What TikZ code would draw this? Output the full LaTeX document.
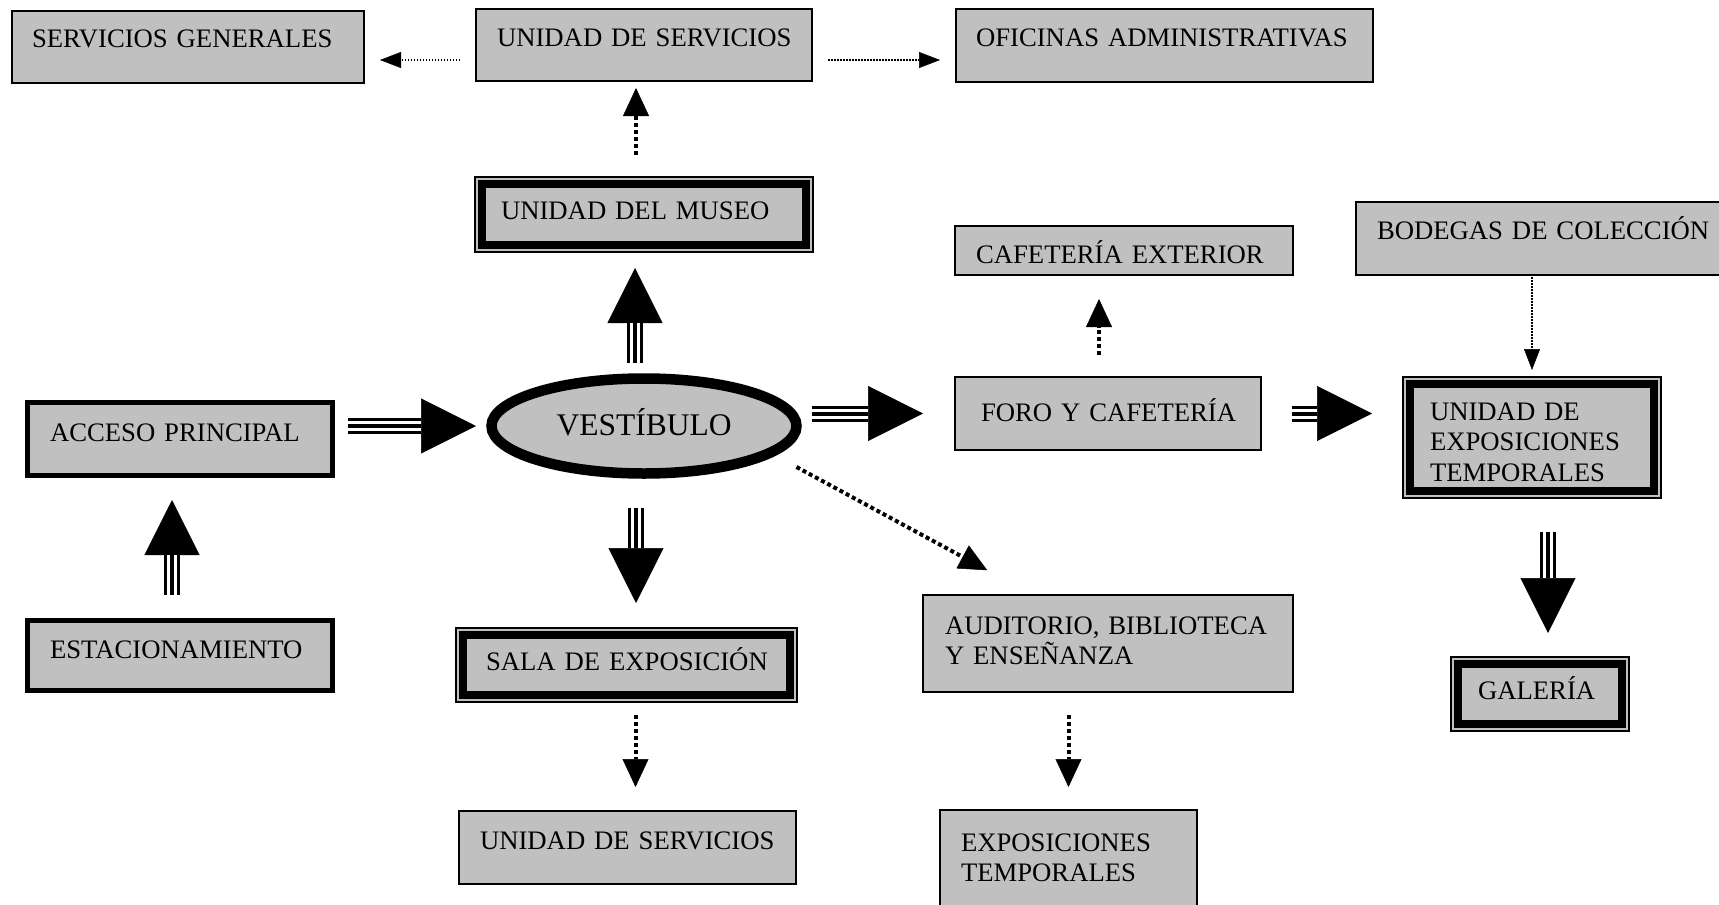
\documentclass[tikz,border=0pt]{standalone}
\usepackage{fontspec}
\setmainfont{Liberation Serif}
\usepackage{xcolor}
\usepackage{tikz}
\usetikzlibrary{shapes.geometric,arrows.meta}

\definecolor{boxgray}{RGB}{192,192,192}
\hyphenpenalty=10000
\exhyphenpenalty=10000

\begin{document}
\begin{tikzpicture}[
  x=1pt, y=-1pt,
  box/.style={draw, line width=2pt, fill=boxgray, anchor=north west,
    outer sep=0pt, inner ysep=0pt, font=\fontsize{26.7}{30.5}\selectfont},
  boldbox/.style={box, line width=5pt},
  unitbox/.style={box, path picture={\draw[line width=8pt]
      ([shift={(7pt,-7pt)}]path picture bounding box.north west) rectangle
      ([shift={(-7pt,7pt)}]path picture bounding box.south east);}},
  hall/.style={ellipse, draw, line width=10.5pt, fill=boxgray, outer sep=0pt,
    inner sep=0pt, minimum width=305pt, minimum height=95pt,
    text height=22pt, text depth=4pt, font=\fontsize{31.5}{36}\selectfont},
  bigarrow/.style 2 args={line width=16pt, shorten <=#1, shorten >=#2,
    -{Triangle[length=55pt,width=55pt,line width=0.5pt]},
    postaction={draw=white, line width=10pt, -, shorten >=#2+55pt},
    postaction={draw=black, line width=4pt, -, shorten >=#2+55pt}},
  dotarrow/.style={line width=4pt, dash pattern=on 4pt off 3pt,
    -{Triangle[length=28pt,width=26pt,line width=0.5pt]}},
  finedotarrow/.style={line width=1.5pt, dash pattern=on 1.5pt off 1.5pt,
    -{Triangle[length=21pt,width=16pt,line width=0.5pt]}}
  ]

\clip (0,0) rectangle (1719,905);

% Top row
\node[box, text width=312pt, inner xsep=20pt, text height=36pt, text depth=36pt]
  (sg) at (12,11) {SERVICIOS~GENERALES};
\node[box, text width=294pt, inner xsep=21pt, text height=37pt, text depth=35pt]
  (us1) at (476,9) {UNIDAD~DE~SERVICIOS};
\node[box, text width=377pt, inner xsep=20pt, text height=37pt, text depth=36pt]
  (of) at (956,9) {OFICINAS~ADMINISTRATIVAS};
\node[unitbox, text width=286pt, inner xsep=26pt, text height=42pt, text depth=33pt]
  (museo) at (475,177) {UNIDAD~DEL~MUSEO};
\node[box, text width=296pt, inner xsep=21pt, text height=37pt, text depth=12pt]
  (cafe) at (955,226) {CAFETERÍA~EXTERIOR};
\node[box, text width=332pt, inner xsep=21pt, text height=37pt, text depth=36pt]
  (bod) at (1356,202) {BODEGAS~DE~COLECCIÓN};

% Middle row
\node[boldbox, text width=260pt, inner xsep=22.5pt, text height=38.5pt, text depth=34.5pt]
  (acc) at (27.5,402.5) {ACCESO~PRINCIPAL};
\node[hall] (vest) at (644,426) {VESTÍBULO};
\node[box, text width=254pt, inner xsep=26pt, text height=44pt, text depth=29pt]
  (foro) at (955,377) {FORO~Y~CAFETERÍA};
\node[unitbox, text width=204pt, inner xsep=27pt, text height=43pt, text depth=78pt]
  (uet) at (1403,377) {UNIDAD~DE\\EXPOSICIONES\\TEMPORALES};

% Bottom rows
\node[boldbox, text width=260pt, inner xsep=22.5pt, text height=37.5pt, text depth=32.5pt]
  (est) at (27.5,620.5) {ESTACIONAMIENTO};
\node[unitbox, text width=281pt, inner xsep=30pt, text height=42pt, text depth=32pt]
  (sala) at (456,628) {SALA~DE~EXPOSICIÓN};
\node[box, text width=326pt, inner xsep=22pt, text height=39pt, text depth=58pt]
  (aud) at (923,595) {AUDITORIO,~BIBLIOTECA\\Y~ENSEÑANZA};
\node[unitbox, text width=124pt, inner xsep=27pt, text height=42pt, text depth=32pt]
  (gal) at (1451,657) {GALERÍA};
\node[box, text width=295pt, inner xsep=21pt, text height=38pt, text depth=35pt]
  (us2) at (459,811) {UNIDAD~DE~SERVICIOS};
\node[box, text width=215pt, inner xsep=21pt, text height=41pt, text depth=69pt]
  (ext) at (940,810) {EXPOSICIONES\\TEMPORALES};

% Main circulation
\draw[bigarrow={15.5pt}{15.5pt}] (acc.east |- vest.west) -- (vest.west);
\draw[bigarrow={25.5pt}{24.5pt}] ([xshift=-8pt]est.north) -- ([xshift=-8pt]acc.south);
\draw[bigarrow={15.5pt}{16pt}] ([xshift=-9pt]vest.north) -- ([xshift=-9pt]museo.south);
\draw[bigarrow={34.5pt}{25pt}] ([xshift=-8pt]vest.south) -- ([xshift=-8pt]vest.south |- sala.north);
\draw[bigarrow={15.5pt}{32pt}] (vest.east |- foro.west) -- (foro.west);
\draw[bigarrow={31pt}{31pt}] (foro.east) -- (uet.west |- foro.east);
\draw[bigarrow={34pt}{24pt}] ([xshift=16pt]uet.south) -- ([xshift=16pt]uet.south |- gal.north);

% Secondary links
\draw[finedotarrow, shorten <=16pt, shorten >=16pt] ([yshift=-15pt]us1.west) -- ([yshift=-15pt]us1.west -| sg.east);
\draw[finedotarrow, shorten <=16pt, shorten >=16pt] ([yshift=-15pt]us1.east) -- ([yshift=-15pt]us1.east -| of.west);
\draw[dotarrow, shorten <=22pt, shorten >=7pt] ([xshift=-8pt]museo.north) -- ([xshift=-8pt]us1.south);
\draw[dotarrow, shorten <=22pt, shorten >=24pt] ([xshift=-9pt]foro.north) -- ([xshift=-9pt]foro.north |- cafe.south);
\draw[finedotarrow, shorten <=2pt, shorten >=7pt] (uet.north |- bod.south) -- (uet.north);
\draw[dotarrow, shorten >=52pt] ([yshift=-41pt]vest.east) -- ([xshift=110pt]aud.north west);
\draw[dotarrow, shorten <=13pt, shorten >=24pt] ([xshift=9pt]sala.south) -- ([xshift=9pt]sala.south |- us2.north);
\draw[dotarrow, shorten <=23pt, shorten >=23pt] (ext.north |- aud.south) -- (ext.north);

\end{tikzpicture}
\end{document}
